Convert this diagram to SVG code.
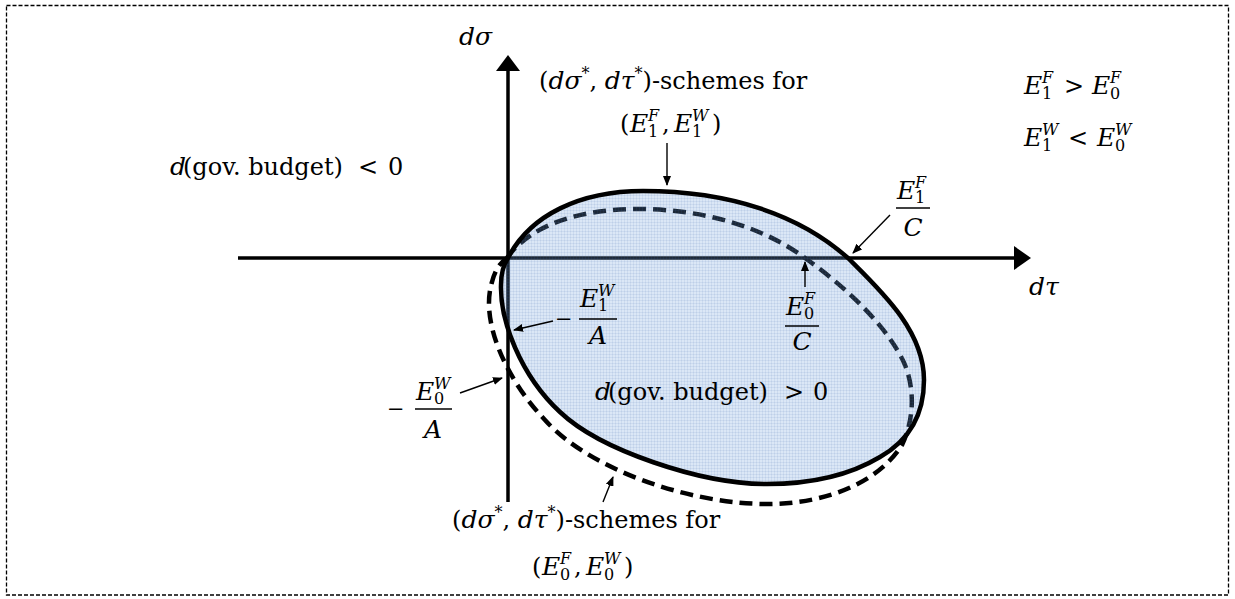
<svg xmlns="http://www.w3.org/2000/svg" width="1235" height="599" viewBox="0 0 1235 599">
<style>
.t{font-family:"DejaVu Serif","Liberation Serif",serif;font-size:24px;fill:#000}
.i{font-style:italic;font-size:25px}
.sc{font-size:16px}
.mn{font-size:21px}
.ax{stroke:#000;stroke-width:3.5;fill:none}
.ann{stroke:#000;stroke-width:1.4;fill:none;marker-end:url(#ah)}
.bar{stroke:#000;stroke-width:1.6}
</style>
<defs>
<marker id="ah" markerUnits="userSpaceOnUse" markerWidth="10" markerHeight="8" refX="9" refY="4" orient="auto">
<path d="M0,0 L10,4 L0,8 z" fill="#000"/>
</marker>
<pattern id="grid" width="3" height="3" patternUnits="userSpaceOnUse">
<rect width="3" height="3" fill="rgb(110,160,220)" fill-opacity="0.25"/>
<path d="M0,0.5H3M0.5,0V3" stroke="rgb(70,110,180)" stroke-opacity="0.1" stroke-width="1"/>
</pattern>
</defs>
<rect x="6.5" y="5.5" width="1222" height="589.5" fill="#fff" stroke="#000" stroke-width="1.3" stroke-dasharray="4 2"/>
<g id="axes">
<line class="ax" x1="238" y1="258" x2="1016" y2="258"/>
<polygon points="1031,258 1014,246 1014,270" fill="#000"/>
<line class="ax" x1="508" y1="502" x2="508" y2="69"/>
<polygon points="508,55 496,71 520,71" fill="#000"/>
</g>
<g id="curve0">
<path d="M507,258 C530,225 580,209 637,209 C700,209 760,225 805,258 C850,290 890,330 905,365 C915,390 914,420 902,445 C880,480 830,504 767,504 C690,504 590,470 545,420 C505,378 480,320 492,282 C495,270 500,263 507,258 Z" fill="none" stroke="#000" stroke-width="4.5" stroke-dasharray="13 7"/>
</g>
<g id="region">
<path d="M508,258 C530,215 580,191 643,191 C730,191 800,215 848,258 C880,290 924,330 924,380 C924,415 910,440 880,457 C850,475 810,484 767,484 C700,484 600,450 560,412 C520,375 500,320 501,285 C501,272 504,264 508,258 Z" fill="url(#grid)"/>
</g>
<g id="curve1">
<path d="M508,258 C530,215 580,191 643,191 C730,191 800,215 848,258 C880,290 924,330 924,380 C924,415 910,440 880,457 C850,475 810,484 767,484 C700,484 600,450 560,412 C520,375 500,320 501,285 C501,272 504,264 508,258 Z" fill="none" stroke="#000" stroke-width="4.5"/>
</g>
<g id="connectors">
<line class="ann" x1="667" y1="143" x2="667" y2="185"/>
<line class="ann" x1="890" y1="215" x2="853" y2="253"/>
<line class="ann" x1="805" y1="287" x2="805" y2="262"/>
<line class="ann" x1="553" y1="321" x2="514" y2="330"/>
<line class="ann" x1="460" y1="393" x2="502" y2="378"/>
<line class="ann" x1="603" y1="502" x2="613" y2="477"/>
</g>
<g id="label-dsigma"><text class="t i" x="459" y="45">dσ</text></g>
<g id="label-dtau"><text class="t i" x="1029" y="295">dτ</text></g>
<g id="label-neg">
<text class="t" x="170" y="175"><tspan class="i">d</tspan><tspan x="183">(gov. budget)</tspan><tspan x="358">&lt;</tspan><tspan x="388">0</tspan></text>
</g>
<g id="label-pos">
<text class="t" x="595" y="400"><tspan class="i">d</tspan><tspan x="608">(gov. budget)</tspan><tspan x="784">&gt;</tspan><tspan x="813">0</tspan></text>
</g>
<g id="label-top">
<text class="t" x="539" y="89">(<tspan class="i">dσ</tspan><tspan class="sc" dy="-10">*</tspan><tspan dy="10">, </tspan><tspan class="i">dτ</tspan><tspan class="sc" dy="-10">*</tspan><tspan dy="10">)-schemes for</tspan></text>
<text class="t" y="132"><tspan x="620">(</tspan><tspan class="i" x="630">E</tspan><tspan class="i sc" x="648" y="121">F</tspan><tspan class="sc" x="648" y="137">1</tspan><tspan x="662" y="132">,</tspan><tspan class="i" x="674">E</tspan><tspan class="i sc" x="692" y="121">W</tspan><tspan class="sc" x="692" y="137">1</tspan><tspan x="712" y="132">)</tspan></text>
</g>
<g id="label-bottom">
<text class="t" x="452" y="528">(<tspan class="i">dσ</tspan><tspan class="sc" dy="-10">*</tspan><tspan dy="10">, </tspan><tspan class="i">dτ</tspan><tspan class="sc" dy="-10">*</tspan><tspan dy="10">)-schemes for</tspan></text>
<text class="t" y="575"><tspan x="532">(</tspan><tspan class="i" x="542">E</tspan><tspan class="i sc" x="560" y="564">F</tspan><tspan class="sc" x="560" y="580">0</tspan><tspan x="574" y="575">,</tspan><tspan class="i" x="586">E</tspan><tspan class="i sc" x="604" y="564">W</tspan><tspan class="sc" x="604" y="580">0</tspan><tspan x="624" y="575">)</tspan></text>
</g>
<g id="label-cond">
<text class="t" y="94"><tspan class="i" x="1024">E</tspan><tspan class="i sc" x="1042" y="83">F</tspan><tspan class="sc" x="1042" y="99">1</tspan><tspan x="1064" y="94">&gt;</tspan><tspan class="i" x="1092">E</tspan><tspan class="i sc" x="1110" y="83">F</tspan><tspan class="sc" x="1110" y="99">0</tspan></text>
<text class="t" y="146"><tspan class="i" x="1024">E</tspan><tspan class="i sc" x="1042" y="135">W</tspan><tspan class="sc" x="1042" y="151">1</tspan><tspan x="1068" y="146">&lt;</tspan><tspan class="i" x="1097">E</tspan><tspan class="i sc" x="1115" y="135">W</tspan><tspan class="sc" x="1115" y="151">0</tspan></text>
</g>
<g id="label-E1F-C">
<text class="t" y="199"><tspan class="i" x="897">E</tspan><tspan class="i sc" x="915" y="188">F</tspan><tspan class="sc" x="915" y="203">1</tspan></text>
<line class="bar" x1="896" y1="208" x2="930" y2="208"/>
<text class="t i" x="913" y="236" text-anchor="middle">C</text>
</g>
<g id="label-E0F-C">
<text class="t" y="315"><tspan class="i" x="786">E</tspan><tspan class="i sc" x="804" y="304">F</tspan><tspan class="sc" x="804" y="319">0</tspan></text>
<line class="bar" x1="785" y1="326" x2="819" y2="326"/>
<text class="t i" x="802" y="350" text-anchor="middle">C</text>
</g>
<g id="label-E1W-A">
<text class="t mn" x="555" y="326">−</text>
<text class="t" y="307"><tspan class="i" x="580">E</tspan><tspan class="i sc" x="598" y="296">W</tspan><tspan class="sc" x="598" y="311">1</tspan></text>
<line class="bar" x1="579" y1="319" x2="617" y2="319"/>
<text class="t i" x="598" y="344" text-anchor="middle">A</text>
</g>
<g id="label-E0W-A">
<text class="t mn" x="387" y="416">−</text>
<text class="t" y="400"><tspan class="i" x="416">E</tspan><tspan class="i sc" x="434" y="389">W</tspan><tspan class="sc" x="434" y="404">0</tspan></text>
<line class="bar" x1="415" y1="409" x2="452" y2="409"/>
<text class="t i" x="433" y="438" text-anchor="middle">A</text>
</g>
</svg>
